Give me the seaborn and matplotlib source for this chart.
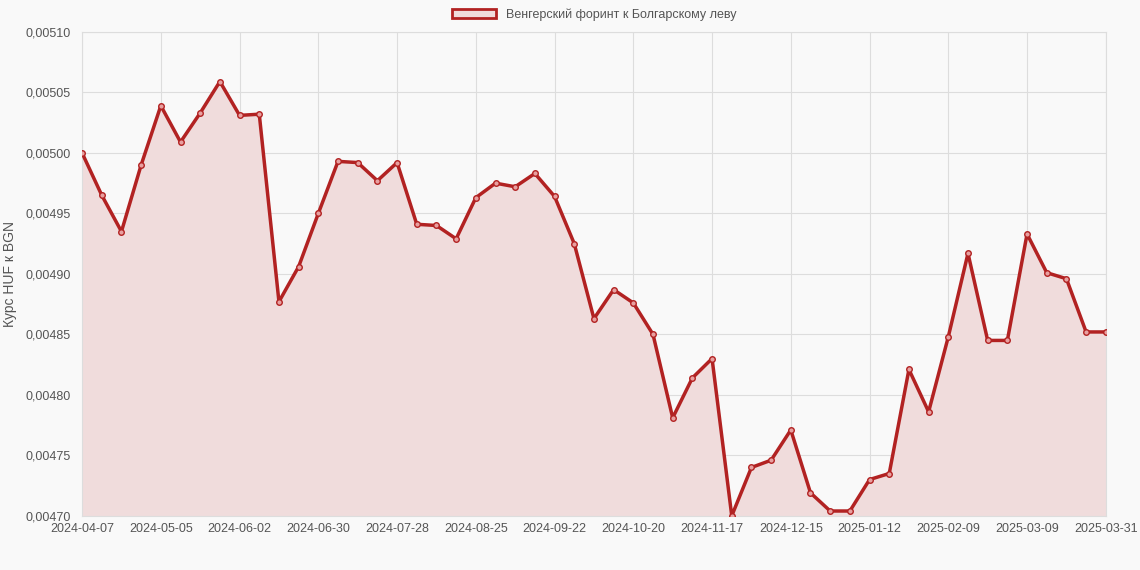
import matplotlib
matplotlib.use('Agg')
import matplotlib.pyplot as plt
import seaborn as sns
import pandas as pd
from matplotlib.patches import Patch
from matplotlib.ticker import FuncFormatter

# Недельные даты (последняя метка на графике 2025-03-31)
dates = list(pd.date_range('2024-04-07', periods=52, freq='7D').strftime('%Y-%m-%d')) + ['2025-03-31']

rates = [
    0.005000, 0.004965, 0.004935, 0.004990, 0.005039, 0.005009, 0.005033, 0.005059,
    0.005031, 0.005032, 0.004877, 0.004906, 0.004950, 0.004993, 0.004992, 0.004977,
    0.004992, 0.004941, 0.004940, 0.004929, 0.004963, 0.004975, 0.004972, 0.004983,
    0.004964, 0.004925, 0.004863, 0.004887, 0.004876, 0.004850, 0.004781, 0.004814,
    0.004830, 0.004700, 0.004740, 0.004746, 0.004771, 0.004719, 0.004704, 0.004704,
    0.004730, 0.004735, 0.004821, 0.004786, 0.004848, 0.004917, 0.004845, 0.004845,
    0.004933, 0.004901, 0.004896, 0.004852, 0.004852,
]

label = 'Венгерский форинт к Болгарскому леву'
color = '#b22222'
fill = '#f0dcdc'

sns.set_style('whitegrid')
plt.rcParams['font.family'] = ['Liberation Sans', 'DejaVu Sans']

df = pd.DataFrame({'idx': range(len(dates)), 'rate': rates})

fig, ax = plt.subplots(figsize=(11.4, 5.7), dpi=100)
fig.patch.set_facecolor('#f9f9f9')
ax.set_facecolor('#f9f9f9')

ax.fill_between(df['idx'], df['rate'], 0.00470, color=fill, zorder=1)
sns.lineplot(data=df, x='idx', y='rate', color=color, linewidth=2.5, ax=ax, zorder=3)
sns.scatterplot(data=df, x='idx', y='rate', s=16, facecolor='#e8a0a0', edgecolor=color,
                linewidth=1, ax=ax, zorder=4)

ax.set_xlim(0, len(dates) - 1)
ax.set_ylim(0.00470, 0.00510)
ax.set_yticks([0.00470 + i * 0.00005 for i in range(9)])
ax.yaxis.set_major_formatter(FuncFormatter(lambda v, p: f'{v:.5f}'.replace('.', ',')))
ticks = list(range(0, 49, 4)) + [len(dates) - 1]
ax.set_xticks(ticks)
ax.set_xticklabels([dates[i] for i in ticks])
ax.tick_params(labelsize=9, colors='#555555', length=0)
ax.tick_params(axis='x', pad=5)
ax.tick_params(axis='y', pad=8)
ax.grid(color='#dddddd', linewidth=0.8)
for s in ax.spines.values():
    s.set_color('#dddddd')
ax.set_xlabel('')
ax.set_ylabel('Курс HUF к BGN', fontsize=10, color='#555555', labelpad=6)

ax.legend(handles=[Patch(facecolor=fill, edgecolor=color, linewidth=2, label=label)],
          loc='lower center', bbox_to_anchor=(0.5, 1.0), frameon=False, fontsize=9,
          handlelength=3.5, labelcolor='#555555')

plt.subplots_adjust(left=0.072, right=0.97, top=0.944, bottom=0.095)
plt.savefig('out.png', dpi=100, facecolor=fig.get_facecolor())
plt.close()
